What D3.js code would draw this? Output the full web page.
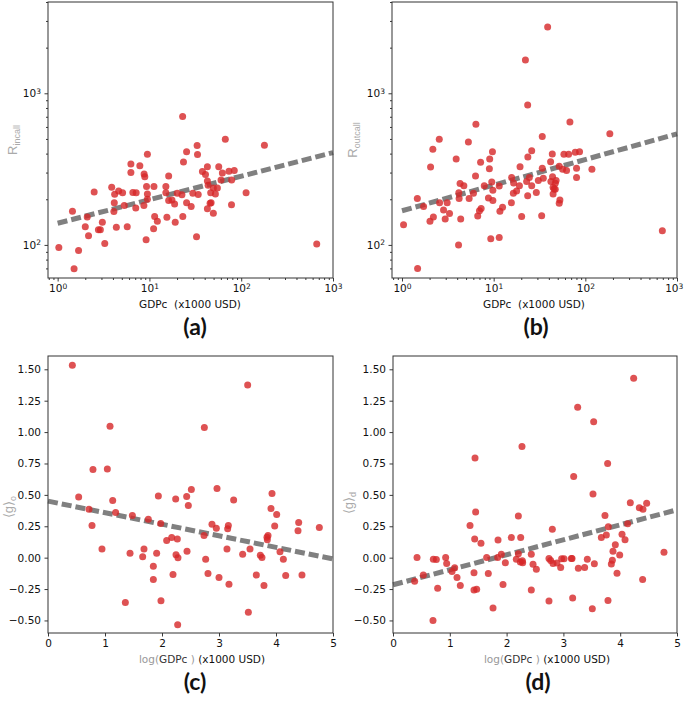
<!DOCTYPE html>
<html>
<head>
<meta charset="utf-8">
<script src="https://cdn.jsdelivr.net/npm/d3@7"></script>
<style>
  body { margin: 0; background: #fff; }
  svg { display: block; }
</style>
</head>
<body>
<div id="chart"></div>
<script>
// panel (a): GDP per capita vs R incall
const aGdp = [1.03, 1.51, 1.69, 1.45, 2.1, 2.0, 2.17, 2.5, 2.78, 2.92, 3.07, 3.26, 3.88, 4.18, 4.14, 4.1, 4.36, 4.62, 5.1, 5.32, 5.73, 6.28, 6.28, 6.6, 7.17, 7.1, 7.86, 8.75, 8.9, 8.7, 9.3, 9.5, 9.5, 9.5, 9.2, 11.2, 11.4, 11.1, 12.2, 15.1, 15.5, 16.2, 16.2, 15.1, 17.6, 18.8, 19.1, 20.1, 22.6, 23, 23.5, 23.1, 25.4, 25.4, 28.5, 29.7, 33.1, 33.4, 34, 32.6, 37.8, 40.8, 42.8, 42.8, 43.6, 42.8, 45.8, 47, 46.5, 49.7, 49.7, 52.3, 55, 56.9, 60.3, 62.3, 67.1, 73.5, 78.6, 78.4, 84, 113, 179, 665];
const aRin = [96, 69.5, 92, 167, 153, 132, 115, 223, 126, 126, 141, 102, 240, 216, 190, 166, 131, 227, 221, 182, 132, 342, 300, 222, 221, 175, 333, 294, 282, 182, 243, 217, 396, 200, 108, 243, 154, 128, 143, 243, 152, 285, 196, 221, 198, 186, 141, 219, 214, 702, 352, 154, 412, 190, 179, 219, 452, 394, 215, 113, 305, 291, 328, 264, 247, 173, 188, 190, 221, 237, 162, 217, 237, 328, 268, 298, 498, 306, 268, 184, 309, 221, 454, 101.5];

// panel (b): GDP per capita vs R outcall
const bGdp = [1.04, 1.48, 1.47, 1.72, 2.02, 2.05, 2.17, 2.2, 2.55, 2.57, 2.84, 2.96, 3.11, 3.3, 3.9, 4.14, 4.17, 4.2, 4.3, 4.37, 4.73, 5.3, 5.4, 6.02, 6.4, 6.34, 6.7, 7.0, 7.3, 7.2, 7.9, 8.77, 8.98, 9.05, 9.7, 9.53, 9.8, 9.8, 9.3, 11.5, 11.5, 11.7, 12.5, 15.6, 15.7, 16.4, 16.5, 17.8, 19.4, 19.1, 20.2, 22.2, 22.9, 23.5, 23.6, 23.5, 24.5, 26, 26, 29.2, 30.7, 33.4, 33.9, 33.9, 34.8, 38.8, 41.8, 43.6, 43.9, 42.1, 44.5, 45.6, 47, 48, 44.5, 47, 52.8, 51.9, 51.9, 56.5, 58.4, 62.4, 65.7, 67.9, 77.6, 80.2, 80.2, 86.5, 118, 185, 692];
const bRout = [136, 69.8, 202, 179, 143, 327, 428, 153, 498, 190, 170, 148, 190, 161, 369, 100, 221, 202, 254, 148, 246, 478, 202, 219, 625, 285, 155, 168, 174, 351, 246, 204, 318, 369, 412, 260, 229, 196, 110, 112, 245, 167, 177, 190, 278, 219, 256, 227, 328, 246, 154, 1660, 262, 837, 380, 211, 278, 418, 246, 222, 266, 156, 518, 320, 275, 2735, 354, 398, 282, 262, 240, 234, 255, 266, 217, 233, 198, 188, 330, 315, 396, 309, 396, 647, 408, 320, 278, 412, 315, 540, 124];

// panel (c): log GDP per capita vs <g>_o
const cLog = [0.427, 0.538, 0.719, 0.789, 0.772, 0.947, 1.041, 1.088, 1.135, 1.187, 1.357, 1.439, 1.48, 1.661, 1.684, 1.76, 1.848, 1.848, 1.906, 1.936, 1.977, 1.982, 2.082, 2.17, 2.193, 2.24, 2.246, 2.269, 2.28, 2.275, 2.433, 2.439, 2.462, 2.515, 2.743, 2.737, 2.766, 2.807, 2.877, 2.953, 2.965, 3.0, 3.14, 3.152, 3.164, 3.175, 3.257, 3.415, 3.503, 3.515, 3.544, 3.655, 3.725, 3.754, 3.789, 3.842, 3.86, 3.848, 3.912, 3.93, 3.977, 4.012, 4.07, 4.129, 4.17, 4.386, 4.398, 4.456, 4.76];
const cGo = [1.532, 0.484, 0.386, 0.702, 0.256, 0.068, 0.707, 1.046, 0.455, 0.359, -0.357, 0.036, 0.335, 0.007, 0.068, 0.306, -0.068, -0.174, 0.036, 0.492, 0.272, -0.344, 0.137, 0.16, -0.134, 0.468, 0.023, 0.148, 0.0, -0.534, 0.487, 0.052, 0.415, 0.542, 1.036, 0.176, -0.012, -0.126, 0.267, 0.235, 0.55, -0.158, 0.068, 0.23, 0.256, -0.211, 0.46, 0.028, 1.375, -0.434, 0.068, -0.139, 0.019, 0.001, -0.222, 0.163, 0.176, 0.142, 0.391, 0.511, 0.253, 0.343, 0.047, -0.012, -0.142, 0.215, 0.28, -0.139, 0.24];

// panel (d): log GDP per capita vs <g>_d
const dLog = [0.381, 0.423, 0.534, 0.71, 0.763, 0.704, 0.786, 0.927, 0.945, 1.039, 1.086, 1.127, 1.185, 1.356, 1.426, 1.438, 1.444, 1.455, 1.426, 1.473, 1.549, 1.649, 1.678, 1.761, 1.849, 1.843, 1.907, 1.937, 1.978, 2.083, 2.171, 2.207, 2.207, 2.242, 2.248, 2.271, 2.277, 2.283, 2.435, 2.435, 2.465, 2.524, 2.746, 2.746, 2.776, 2.805, 2.817, 2.887, 2.952, 2.969, 3.011, 3.14, 3.152, 3.163, 3.181, 3.251, 3.263, 3.374, 3.421, 3.509, 3.521, 3.533, 3.545, 3.668, 3.732, 3.756, 3.779, 3.785, 3.791, 3.844, 3.862, 3.873, 3.914, 3.944, 3.991, 4.032, 4.085, 4.131, 4.178, 4.237, 4.337, 4.401, 4.395, 4.466, 4.771];
const dGd = [-0.187, 0.001, -0.139, -0.012, -0.015, -0.5, -0.243, 0.001, -0.046, -0.11, -0.081, -0.158, -0.222, 0.256, -0.12, 0.148, 0.794, 0.363, -0.257, -0.251, 0.114, 0.001, -0.126, -0.4, 0.14, 0.001, 0.028, -0.214, -0.04, 0.16, -0.012, 0.332, 0.032, -0.034, 0.16, 0.886, -0.025, -0.04, 0.028, -0.257, -0.053, -0.093, -0.346, -0.007, -0.023, 0.227, -0.046, -0.043, -0.078, -0.009, -0.009, -0.007, -0.007, -0.322, 0.646, 1.198, -0.084, -0.078, -0.012, -0.407, 0.507, 1.082, -0.049, 0.16, 0.335, 0.181, 0.75, -0.341, 0.247, -0.051, -0.02, 0.052, 0.103, -0.125, 0.021, 0.186, 0.143, 0.27, 0.438, 1.428, 0.398, 0.385, -0.174, 0.434, 0.044];

// fitted trend lines (end points)
const aFitX = [1, 1000], aFitY = [139, 406];
const bFitX = [1, 1000], bFitY = [168, 540];
const cFitX = [0, 5], cFitY = [0.45, -0.01];
const dFitX = [0, 5], dFitY = [-0.216, 0.381];

// ticks
const logXTicks = [1, 10, 100, 1000];
const logYTicks = [100, 1000];
const linXTicks = [0, 1, 2, 3, 4, 5];
const gTicks = [-0.5, -0.25, 0, 0.25, 0.5, 0.75, 1.0, 1.25, 1.5];

const dotColor = 'rgba(214, 39, 40, 0.8)';
const fitColor = '#808080';
const tickFont = 'DejaVu Sans, sans-serif';
const pageWidth = 685;

const svg = d3.select('#chart').append('svg')
    .attr('width', pageWidth)
    .attr('height', 702);

function logMinors(lo, hi) {
    const out = [];
    for (let e = Math.floor(Math.log10(lo)); e <= Math.ceil(Math.log10(hi)); e++) {
        for (let m = 2; m <= 9; m++) {
            const v = m * Math.pow(10, e);
            if (v >= lo && v <= hi) out.push(v);
        }
    }
    return out;
}

function styleTicks(g) {
    g.select('.domain').remove();
    g.selectAll('.tick line').attr('stroke', '#222').attr('stroke-width', 0.9);
    g.selectAll('.tick text')
        .attr('font-family', tickFont)
        .attr('font-size', 10.5)
        .attr('fill', '#111');
}

// replace tick text by 10 with superscript exponent
function powerLabels(g) {
    g.selectAll('.tick text').each(function(d) {
        const t = d3.select(this).text('');
        t.append('tspan').text('10');
        t.append('tspan')
            .attr('dy', '-0.45em')
            .attr('font-size', 7.5)
            .text(Math.round(Math.log10(d)));
    });
}

// nudge labels that would run past the right edge of the page
function keepInside(g) {
    g.selectAll('.tick').each(function() {
        const box = this.getBoundingClientRect();
        if (box.right > pageWidth - 1) {
            d3.select(this).select('text').attr('dx', -(box.right - pageWidth + 1.5));
        }
    });
}

function drawPanel(p) {
    const g = svg.append('g');

    // minor ticks on log axes
    if (p.log) {
        g.append('g')
            .attr('transform', `translate(0,${p.bottom})`)
            .call(d3.axisBottom(p.x).tickValues(logMinors(p.x.domain()[0], p.x.domain()[1])).tickSize(2).tickFormat(''))
            .call(styleTicks);
        g.append('g')
            .attr('transform', `translate(${p.left},0)`)
            .call(d3.axisLeft(p.y).tickValues(logMinors(p.y.domain()[0], p.y.domain()[1])).tickSize(2).tickFormat(''))
            .call(styleTicks);
    }

    const xAxis = g.append('g')
        .attr('transform', `translate(0,${p.bottom})`)
        .call(d3.axisBottom(p.x).tickValues(p.xTicks).tickSize(3.5).tickPadding(3.5))
        .call(styleTicks);
    const yAxis = g.append('g')
        .attr('transform', `translate(${p.left},0)`)
        .call(d3.axisLeft(p.y).tickValues(p.yTicks).tickSize(3.5).tickPadding(3.5)
            .tickFormat(p.log ? null : d => d3.format('.2f')(d).replace('-', '\u2212')))
        .call(styleTicks);

    if (p.log) {
        xAxis.call(powerLabels);
        yAxis.call(powerLabels);
    } else {
        xAxis.selectAll('.tick text').text(d => d);
    }
    xAxis.call(keepInside);

    // trend line
    const line = d3.line().x(d => p.x(d[0])).y(d => p.y(d[1]));
    g.append('path')
        .datum(d3.zip(p.fitX, p.fitY))
        .attr('d', line)
        .attr('fill', 'none')
        .attr('stroke', fitColor)
        .attr('stroke-width', 5)
        .attr('stroke-dasharray', '10,4');

    // scatter points
    g.append('g').selectAll('circle')
        .data(d3.zip(p.xs, p.ys))
        .enter()
        .append('circle')
        .attr('cx', d => p.x(d[0]))
        .attr('cy', d => p.y(d[1]))
        .attr('r', 3.5)
        .attr('fill', dotColor);

    // frame
    g.append('rect')
        .attr('x', p.left)
        .attr('y', p.top)
        .attr('width', p.right - p.left)
        .attr('height', p.bottom - p.top)
        .attr('fill', 'none')
        .attr('stroke', '#333')
        .attr('stroke-width', 1);

    // x label
    const xl = g.append('text')
        .attr('x', p.xlabX)
        .attr('y', p.xlabY)
        .attr('text-anchor', 'middle')
        .attr('font-family', tickFont)
        .attr('font-size', 10.5)
        .attr('fill', '#111');
    if (p.log) {
        xl.text('GDPc\u00a0\u00a0(x1000 USD)');
    } else {
        xl.append('tspan').attr('fill', '#999').text('log(');
        xl.append('tspan').attr('fill', '#333').text('GDPc');
        xl.append('tspan').attr('fill', '#999').text('\u00a0)');
        xl.append('tspan').text(' (x1000 USD)');
    }

    // y label
    const yl = g.append('text')
        .attr('transform', `translate(${p.ylabX},${p.ylabY}) rotate(-90)`)
        .attr('text-anchor', 'middle')
        .attr('font-family', 'Liberation Sans, Arial, sans-serif')
        .attr('fill', '#aaa');
    yl.append('tspan').attr('font-size', 13).text(p.ylabMain);
    yl.append('tspan').attr('font-size', 9).attr('dy', '0.3em').text(p.ylabSub);

    // panel letter
    g.append('text')
        .attr('x', p.tagX)
        .attr('y', p.tagY)
        .attr('text-anchor', 'middle')
        .attr('font-family', 'Lato, Liberation Sans, sans-serif')
        .attr('font-weight', 'bold')
        .attr('font-size', 23)
        .attr('fill', '#111')
        .text(p.tag);
}

const rDomain = [60.5, 4000];

drawPanel({
    log: true, left: 48, right: 333, top: 2, bottom: 278,
    x: d3.scaleLog().domain([0.785, 1000]).range([48, 333]),
    y: d3.scaleLog().domain(rDomain).range([278, 2]),
    xTicks: logXTicks, yTicks: logYTicks,
    xs: aGdp, ys: aRin, fitX: aFitX, fitY: aFitY,
    xlabX: 190, xlabY: 308, ylabX: 17, ylabY: 140, ylabMain: 'R', ylabSub: 'incall',
    tag: '(a)', tagX: 195, tagY: 335
});

drawPanel({
    log: true, left: 392, right: 677, top: 2, bottom: 278,
    x: d3.scaleLog().domain([0.778, 1000]).range([392, 677]),
    y: d3.scaleLog().domain(rDomain).range([278, 2]),
    xTicks: logXTicks, yTicks: logYTicks,
    xs: bGdp, ys: bRout, fitX: bFitX, fitY: bFitY,
    xlabX: 534, xlabY: 308, ylabX: 357, ylabY: 140, ylabMain: 'R', ylabSub: 'outcall',
    tag: '(b)', tagX: 536, tagY: 335
});

const gDomain = [-0.6, 1.606];

drawPanel({
    log: false, left: 48, right: 333, top: 356, bottom: 633,
    x: d3.scaleLinear().domain([0, 5]).range([48, 333]),
    y: d3.scaleLinear().domain(gDomain).range([633, 356]),
    xTicks: linXTicks, yTicks: gTicks,
    xs: cLog, ys: cGo, fitX: cFitX, fitY: cFitY,
    xlabX: 202, xlabY: 663, ylabX: 13, ylabY: 507, ylabMain: '\u27e8g\u27e9', ylabSub: 'o',
    tag: '(c)', tagX: 195, tagY: 690
});

drawPanel({
    log: false, left: 393, right: 677, top: 356, bottom: 633,
    x: d3.scaleLinear().domain([0, 5]).range([393, 677]),
    y: d3.scaleLinear().domain(gDomain).range([633, 356]),
    xTicks: linXTicks, yTicks: gTicks,
    xs: dLog, ys: dGd, fitX: dFitX, fitY: dFitY,
    xlabX: 547, xlabY: 663, ylabX: 353, ylabY: 503, ylabMain: '\u27e8g\u27e9', ylabSub: 'd',
    tag: '(d)', tagX: 538, tagY: 690
});
</script>
</body>
</html>
